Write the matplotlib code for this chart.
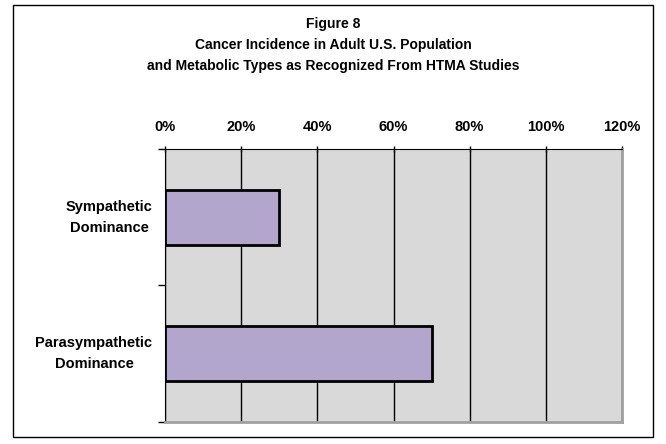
import matplotlib.pyplot as plt
from matplotlib.patches import Rectangle

plt.rcParams['font.family'] = ['Liberation Sans', 'DejaVu Sans']

# data
categories = ['Sympathetic\nDominance', 'Parasympathetic\nDominance']
values = [30, 70]
x_ticks = [0, 20, 40, 60, 80, 100, 120]
title_lines = ['Figure 8',
               'Cancer Incidence in Adult U.S. Population',
               'and Metabolic Types as Recognized From HTMA Studies']

fig = plt.figure(figsize=(6.66, 4.44), dpi=100)
W, H = 666, 444

# outer chart border
fig.patches.append(Rectangle((13 / W, 1 - 437 / H), 640 / W, 432 / H,
                             transform=fig.transFigure, fill=False,
                             edgecolor='black', linewidth=1.0))

ax = fig.add_axes([165 / W, 1 - 422 / H, 457 / W, 273 / H])
ax.set_facecolor('#D9D9D9')

ypos = list(range(len(categories)))
ax.barh(ypos, values, height=0.4, color='#B2A6CC', edgecolor='black',
        linewidth=2, zorder=3)

ax.set_xlim(0, 120)
ax.set_ylim(1.5, -0.5)
ax.set_xticks(x_ticks)
ax.set_xticklabels([f'{t}%' for t in x_ticks], fontsize=10.5, fontweight='bold')
ax.xaxis.tick_top()
ax.tick_params(axis='x', length=4, width=1, pad=8.5, direction='inout')
ax.grid(axis='x', color='black', linewidth=1, zorder=1)

ax.set_yticks(ypos)
ax.set_yticklabels(categories, fontsize=10.5, fontweight='bold')
for lab in ax.get_yticklabels():
    lab.set_multialignment('center')
    lab.set_linespacing(1.6)
    lab.set_verticalalignment('center')
ax.tick_params(axis='y', length=0, pad=9)
ax.set_yticks([-0.5, 0.5, 1.5], minor=True)
ax.tick_params(axis='y', which='minor', length=5, width=1, direction='out')

ax.spines['top'].set_color('black')
ax.spines['left'].set_color('black')
ax.spines['right'].set_color('#A0A0A0')
ax.spines['bottom'].set_color('#A0A0A0')
ax.spines['right'].set_linewidth(2)
ax.spines['bottom'].set_linewidth(2)

for line, yb in zip(title_lines, [28, 49, 70]):
    fig.text(0.5, 1 - yb / H, line, ha='center', va='baseline',
             fontsize=10, fontweight='bold')

fig.savefig('out.png', dpi=100)
